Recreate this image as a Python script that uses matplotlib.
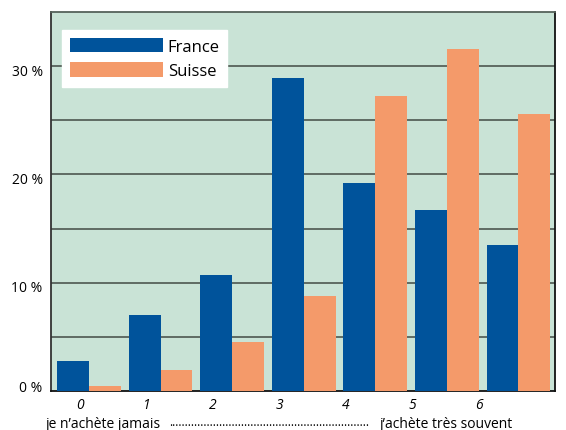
import matplotlib
matplotlib.use("Agg")
import matplotlib.pyplot as plt
import matplotlib.transforms as mtransforms
import numpy as np

categories = ["0", "1", "2", "3", "4", "5", "6"]
france = [2.8, 7.0, 10.7, 28.9, 19.2, 16.7, 13.5]
suisse = [0.45, 1.9, 4.5, 8.75, 27.2, 31.6, 25.6]
series_names = ["France", "Suisse"]
ytick_values = [0, 10, 20, 30]
ytick_labels = ["0 %", "10 %", "20 %", "30 %"]
scale_left = "je n\u2019achète jamais"
scale_right = "j\u2019achète très souvent"

plt.rcParams["font.family"] = ["Open Sans", "DejaVu Sans"]

BLUE = "#00539b"
ORANGE = "#f49a6a"
BG = "#c9e3d6"
GRID = "#5f6b63"

fig = plt.figure(figsize=(5.66, 4.31), dpi=100)
ax = fig.add_axes([51 / 566, 39 / 431, 504 / 566, 379 / 431])
ax.set_facecolor(BG)

x = np.arange(len(categories))
w = 0.445
b1 = ax.bar(x - w / 2, france, width=w, color=BLUE, zorder=3, label=series_names[0])
b2 = ax.bar(x + w / 2, suisse, width=w, color=ORANGE, zorder=3, label=series_names[1])

ax.set_xlim(-0.53, 6.51)
ax.set_ylim(0, 35)

# horizontal rules every 5 %
for yv in np.arange(5, 35, 5):
    ax.axhline(yv, color=GRID, lw=1.4, zorder=1)

ax.set_yticks(ytick_values)
ax.set_yticklabels(ytick_labels, fontsize=10)
ax.tick_params(axis="y", length=0, pad=6)
# percentage labels sit a little below their rule; the zero label sits above the base
for lab, v in zip(ax.get_yticklabels(), ytick_values):
    dy = 5 if v == 0 else -3
    lab.set_transform(lab.get_transform() +
                      mtransforms.ScaledTranslation(0, dy / 100, fig.dpi_scale_trans))

# category labels sit slightly left of each bar pair
ax.set_xticks(x * 0.928 - 0.125)
ax.set_xticklabels(categories, fontsize=10, style="italic")
ax.tick_params(axis="x", length=0, pad=4)

for side in ["left", "bottom", "right", "top"]:
    ax.spines[side].set_linewidth(1.3)
ax.spines["left"].set_color("#333333")
ax.spines["bottom"].set_color("#111111")
ax.spines["right"].set_color("#111111")
ax.spines["top"].set_color("#55625a")

leg = ax.legend(handles=[b1, b2], loc="upper left",
                bbox_to_anchor=(11 / 504, 1 - 18 / 379),
                fontsize=12, frameon=True, fancybox=False,
                handlelength=5.6, handleheight=1.0, handletextpad=0.3,
                labelspacing=0.45, borderpad=0.45, borderaxespad=0)
leg.get_frame().set_facecolor("white")
leg.get_frame().set_edgecolor("white")
leg.get_frame().set_alpha(1)
leg.set_zorder(5)

ty = 1 - 425 / 431
fig.text(103 / 566, ty, scale_left, ha="center", va="center", fontsize=10)
fig.text(269 / 566, 1 - 426.5 / 431, "." * 64, ha="center", va="baseline", fontsize=8.5)
fig.text(446 / 566, ty, scale_right, ha="center", va="center", fontsize=10)

fig.savefig("out.png", dpi=100)
